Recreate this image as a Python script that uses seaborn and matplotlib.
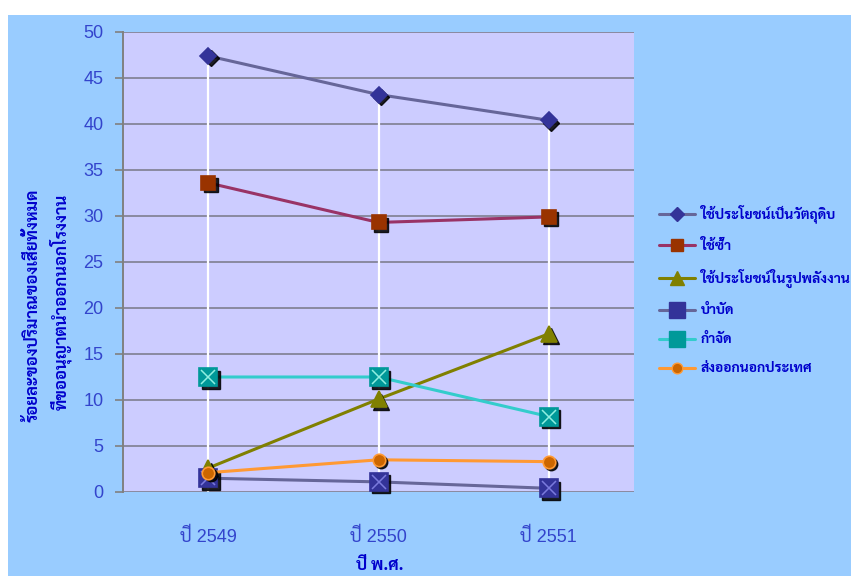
import matplotlib
matplotlib.use("Agg")
import matplotlib.pyplot as plt
from matplotlib.patches import Rectangle
from matplotlib.transforms import offset_copy
import seaborn as sns
import pandas as pd

# Years and shares of waste permitted to leave the factory (%)
years = ["ปี 2549", "ปี 2550", "ปี 2551"]
series_names = [
    "ใช้ประโยชน์เป็นวัตถุดิบ",
    "ใช้ซ้ำ",
    "ใช้ประโยชน์ในรูปพลังงาน",
    "บำบัด",
    "กำจัด",
    "ส่งออกนอกประเทศ",
]
raw_material = [47.4, 43.2, 40.4]
reuse = [33.6, 29.3, 29.9]
energy = [2.6, 10.1, 17.2]
treatment = [1.5, 1.1, 0.4]
disposal = [12.5, 12.5, 8.2]
export = [2.1, 3.5, 3.3]
y_ticks = [0, 5, 10, 15, 20, 25, 30, 35, 40, 45, 50]
y_title = ["ร้อยละของปริมาณของเสียทั้งหมด", "ที่ขออนุญาตนำออกนอกโรงงาน"]
x_title = "ปี พ.ศ."

values = [raw_material, reuse, energy, treatment, disposal, export]

sns.set_theme(style="white")
THAI = ["Sarabun", "Athiti", "DejaVu Sans"]
LATIN_THAI = ["Liberation Sans", "Sarabun", "DejaVu Sans"]
plt.rcParams["font.family"] = LATIN_THAI

W, H = 851, 576
fig = plt.figure(figsize=(W / 100, H / 100), dpi=100)
fig.patch.set_facecolor("white")
# chart background panel (white strip above and to the left)
bg = Rectangle((8 / W, 0), 1, 1 - 15 / H, transform=fig.transFigure,
               facecolor="#99CCFF", edgecolor="none", zorder=-10)
fig.add_artist(bg)

ax = fig.add_axes([123 / W, 1 - 492 / H, (634 - 123) / W, (492 - 32) / H])
ax.set_zorder(1)
ax.set_facecolor("#CCCCFF")

df = pd.DataFrame({
    "pos": [i for _ in series_names for i in range(len(years))],
    "value": [v for s in values for v in s],
    "series": [n for n in series_names for _ in years],
})

line_colors = ["#666699", "#993366", "#808000", "#666699", "#33CCCC", "#FF9933"]
face_colors = ["#333399", "#993300", "#808000", "#333399", "#009999", "#CC6600"]
edge_colors = ["#333399", "#993300", "#808000", "#333399", "#009999", "#FF9933"]
markers = ["D", "s", "^", "s", "s", "o"]
msizes = [8, 10, 12, 13, 13, 9]
cross_colors = [None, None, None, "#7A7ADD", "#8FEFE0", None]

# drop lines from the axis to the highest point of each year
tops = [max(v[i] for v in values) for i in range(len(years))]
ax.vlines(range(len(years)), 0, tops, colors="white", lw=1.6, zorder=1.5)

ax.set_ylim(0, 50)
ax.set_xlim(-0.5, len(years) - 0.5)
ax.set_yticks(y_ticks)
ax.yaxis.grid(True, color="#8A8AA0", lw=1.4)
ax.set_axisbelow(True)

shadow_tr = offset_copy(ax.transData, fig=fig, x=2.5, y=-2.5, units="dots")

for k, name in enumerate(series_names):
    sub = df[df["series"] == name]
    sns.lineplot(data=sub, x="pos", y="value", ax=ax, color=line_colors[k], lw=2.2,
                 legend=False, zorder=3 + k * 0.1, estimator=None)
    ax.plot(sub["pos"], sub["value"], linestyle="none", marker=markers[k],
            markersize=msizes[k], markerfacecolor="black", markeredgecolor="black",
            alpha=0.85, transform=shadow_tr, zorder=3.02 + k * 0.1, clip_on=False)
    ax.plot(sub["pos"], sub["value"], linestyle="none", marker=markers[k],
            markersize=msizes[k], markerfacecolor=face_colors[k],
            markeredgecolor=edge_colors[k], markeredgewidth=1.2,
            zorder=3.05 + k * 0.1, clip_on=False)
    if cross_colors[k]:
        ax.plot(sub["pos"], sub["value"], linestyle="none", marker="x",
                markersize=msizes[k] * 0.75, markeredgecolor=cross_colors[k],
                markeredgewidth=1.1, zorder=3.06 + k * 0.1, clip_on=False)

for s in ["top", "right", "bottom"]:
    ax.spines[s].set_visible(False)
ax.spines["left"].set_color("#808080")
ax.spines["left"].set_linewidth(1.4)
ax.tick_params(axis="y", which="major", left=True, length=6, width=1.2, color="#808080",
               labelsize=13, labelcolor="#3344CC", pad=8)
ax.tick_params(axis="x", bottom=False, labelsize=13, labelcolor="#3344CC", pad=20)
ax.set_xticks(range(len(years)))
ax.set_xticklabels(years)
for t in ax.get_yticklabels():
    t.set_fontfamily("Liberation Sans")
ax.set_xlabel("")
ax.set_ylabel("")

# axis titles
fig.text(x=380 / W, y=1 - 566 / H, s=x_title, ha="center", va="center", fontsize=12,
         fontweight="bold", color="#0000CC", family=THAI)
fig.text(x=33 / W, y=1 - 305 / H, s=y_title[0], ha="center", va="center", rotation=90,
         fontsize=12, fontweight="bold", color="#0000CC", family=THAI)
fig.text(x=61 / W, y=1 - 302 / H, s=y_title[1], ha="center", va="center", rotation=90,
         fontsize=12, fontweight="bold", color="#0000CC", family=THAI)

# legend
handles = []
for k, name in enumerate(series_names):
    h, = ax.plot([], [], color=line_colors[k], lw=2.2, marker=markers[k],
                 markersize=msizes[k] * 0.85, markerfacecolor=face_colors[k],
                 markeredgecolor=edge_colors[k])
    handles.append(h)
leg = fig.legend(handles, series_names, loc="center left", bbox_to_anchor=(646 / W, 1 - 290 / H),
                 frameon=False, handlelength=2.6, handletextpad=0.45, labelspacing=1.15,
                 prop={"family": THAI, "weight": "bold", "size": 10})
for t in leg.get_texts():
    t.set_color("#0000CC")

fig.savefig("out.png", dpi=100, facecolor=fig.get_facecolor())
